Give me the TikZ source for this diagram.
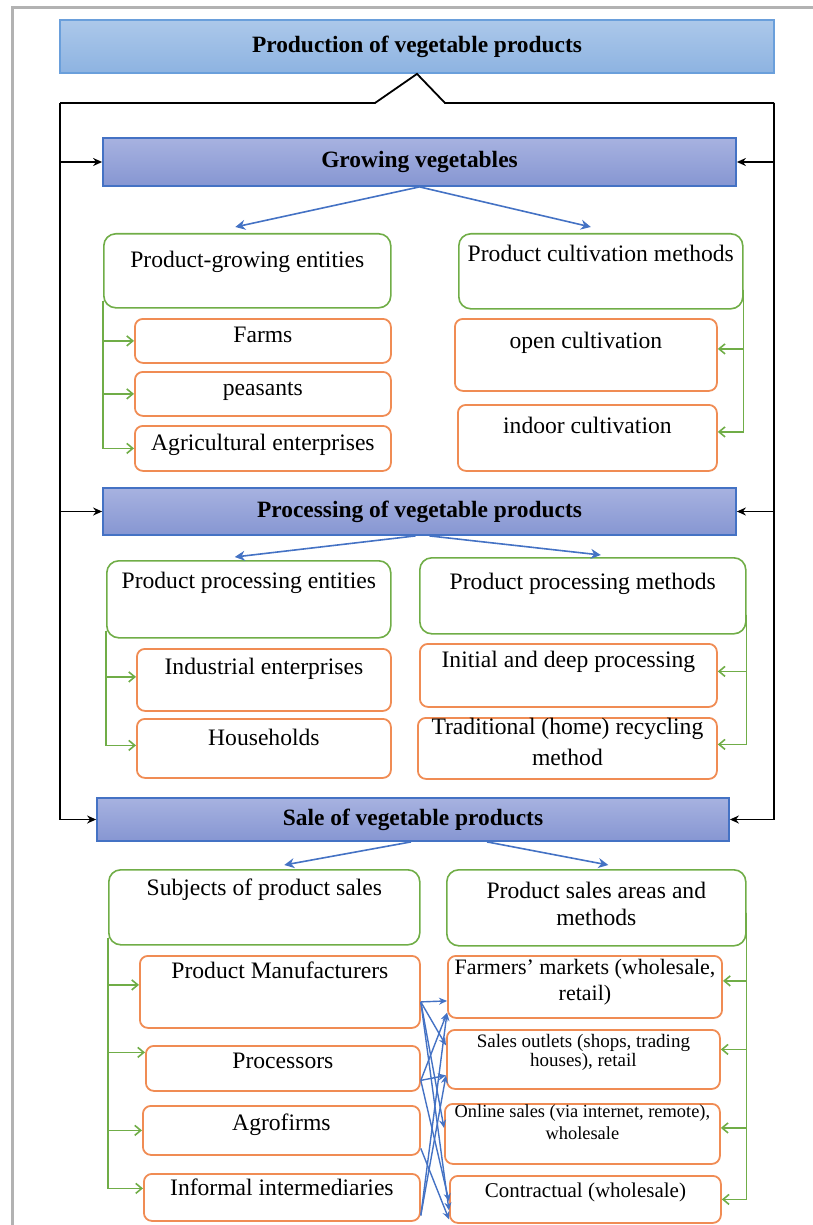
\documentclass[tikz,border=0pt]{standalone}
\usepackage{fontspec}
\setmainfont{Liberation Serif}
\usetikzlibrary{arrows.meta}
\definecolor{hdblue}{RGB}{68,114,196}
\definecolor{tpblue}{RGB}{106,159,219}
\definecolor{maintop}{RGB}{172,200,234}
\definecolor{mainbot}{RGB}{141,179,225}
\definecolor{stagetop}{RGB}{167,178,224}
\definecolor{stagebot}{RGB}{134,150,210}
\definecolor{grgreen}{RGB}{112,173,71}
\definecolor{itorange}{RGB}{240,140,84}
\definecolor{frgray}{RGB}{178,178,178}

\tikzset{
  mainbox/.style={draw=tpblue, line width=0.9pt, top color=maintop, bottom color=mainbot,
    inner sep=0pt, font=\fontsize{11.7}{14}\selectfont\bfseries},
  stagebox/.style={draw=hdblue, line width=0.9pt, top color=stagetop, bottom color=stagebot,
    inner sep=0pt, font=\fontsize{11.7}{14}\selectfont\bfseries},
  groupbox/.style={draw=grgreen, line width=0.8pt, rounded corners=6pt, anchor=north west,
    inner ysep=0pt, align=center, font=\fontsize{11.8}{13.5}\selectfont},
  itembox/.style={draw=itorange, line width=0.9pt, rounded corners=4pt, anchor=north west,
    inner ysep=0pt, align=center, font=\fontsize{11.8}{15.5}\selectfont},
  feed/.style={draw=black, line width=0.9pt},
  split/.style={draw=hdblue, line width=0.8pt, -{Stealth[length=5pt,width=5pt]}},
  branch/.style={draw=grgreen, line width=0.8pt, -{Straight Barb[length=3pt,width=5pt]}},
  link/.style={draw=hdblue, line width=0.7pt, -{Stealth[length=4pt,width=3.5pt]}}
}

\begin{document}
\begin{tikzpicture}[x=0.5pt, y=-0.5pt]
\useasboundingbox (0,0) rectangle (813,1225);
\draw[frgray, line width=1.5pt] (12,1225) -- (12,8) -- (813,8);

% stages
\node[mainbox, minimum width=357pt, minimum height=26.5pt] (main) at (417,46.5) {Production of vegetable products};
\node[stagebox, minimum width=316.5pt, minimum height=24pt] (grow) at (419.5,162) {Growing vegetables};
\node[stagebox, minimum width=316.5pt, minimum height=23.5pt] (proc) at (419.5,511.5) {Processing of vegetable products};
\node[stagebox, minimum width=316pt, minimum height=21.5pt] (sale) at (413,819.5) {Sale of vegetable products};

% growing
\node[groupbox, minimum width=143.5pt, text height=17pt, text depth=20pt] (gEnt) at (103,233) {Product-growing entities};
\node[groupbox, minimum width=142pt, text height=14pt, text depth=23.5pt] (gMeth) at (458,233) {Product cultivation methods};
\node[itembox, minimum width=128pt, text height=12pt, text depth=10pt] (farms) at (134,318) {Farms};
\node[itembox, minimum width=128pt, text height=12pt, text depth=10pt] (peas) at (134,371) {peasants};
\node[itembox, minimum width=128pt, text height=12.5pt, text depth=10pt] (agri) at (134,425) {Agricultural enterprises};
\node[itembox, minimum width=131pt, text height=15pt, text depth=21pt] (open) at (454,318) {open cultivation};
\node[itembox, minimum width=129.5pt, text height=14.5pt, text depth=18.5pt] (indoor) at (457,404) {indoor cultivation};

% processing
\node[groupbox, minimum width=142pt, text height=14pt, text depth=24.5pt] (pEnt) at (106,560) {Product processing entities};
\node[groupbox, minimum width=163pt, text height=16pt, text depth=22pt] (pMeth) at (419,557) {Product processing methods};
\node[itembox, minimum width=127pt, text height=13pt, text depth=18pt] (indus) at (136,648) {Industrial enterprises};
\node[itembox, minimum width=127pt, text height=13.5pt, text depth=16pt] (house) at (136,718) {Households};
\node[itembox, minimum width=148.5pt, text height=12pt, text depth=19.5pt] (initial) at (419,643) {Initial and deep processing};
\node[itembox, minimum width=149.5pt, text height=24pt, text depth=6.5pt] (trad) at (417,717) {Traditional (home) recycling\\method};

% sale
\node[groupbox, minimum width=155.5pt, text height=13pt, text depth=24.5pt] (sSubj) at (108,869) {Subjects of product sales};
\node[groupbox, minimum width=149.5pt, text height=28pt, text depth=10pt] (sArea) at (446,869) {Product sales areas and\\methods};
\node[itembox, minimum width=140pt, text height=11.5pt, text depth=24.5pt] (manuf) at (139,955) {Product Manufacturers};
\node[itembox, minimum width=137pt, text height=11.5pt, text depth=11pt] (procs) at (145,1045) {Processors};
\node[itembox, minimum width=138.5pt, text height=12.5pt, text depth=12pt] (agro) at (142,1105) {Agrofirms};
\node[itembox, minimum width=138pt, text height=11pt, text depth=12.5pt] (inform) at (143,1173) {Informal intermediaries};
\node[itembox, minimum width=136.5pt, text height=22.5pt, text depth=8.5pt, font=\fontsize{11}{13}\selectfont] (farmer) at (447,955) {Farmers' markets (wholesale,\\retail)};
\node[itembox, minimum width=136.5pt, text height=18.5pt, text depth=11pt, font=\fontsize{9.5}{9.5}\selectfont] (outlet) at (446,1029) {Sales outlets (shops, trading\\houses), retail};
\node[itembox, minimum width=137.5pt, text height=18pt, text depth=12pt, font=\fontsize{9.2}{11}\selectfont] (online) at (444,1103) {Online sales (via internet, remote),\\wholesale};
\node[itembox, minimum width=135.5pt, text height=11pt, text depth=12.5pt, font=\fontsize{10.5}{12}\selectfont] (contr) at (449,1175) {Contractual (wholesale)};

% frame of stages
\coordinate (tl) at (60,103);
\coordinate (tr) at (774,103);
\draw[feed] (tl) -- (375,103) -- (main.south) -- (445,103) -- (tr);
\draw[feed, -{Stealth[length=4.5pt,width=4pt]}] (tl) |- (sale.west);
\draw[feed, -{Stealth[length=4.5pt,width=4pt]}] (tr) |- (sale.east);
\foreach \s in {grow,proc}{
  \draw[feed, -{Stealth[length=4.5pt,width=4pt]}] (tl |- \s.west) -- (\s.west);
  \draw[feed, -{Stealth[length=4.5pt,width=4pt]}] (tr |- \s.east) -- (\s.east);
}

% splits
\draw[split] (grow.south) -- ([xshift=-6pt,yshift=3pt]gEnt.north);
\draw[split] (grow.south) -- ([xshift=-5pt,yshift=3pt]gMeth.north);
\draw[split] ([xshift=-2pt]proc.south) -- ([xshift=-7pt,yshift=1.5pt]pEnt.north);
\draw[split] ([xshift=5pt]proc.south) -- ([xshift=9pt,yshift=1pt]pMeth.north);
\draw[split] ([xshift=-1pt]sale.south) -- ([xshift=10pt,yshift=2pt]sSubj.north);
\draw[split] ([xshift=37pt]sale.south) -- ([xshift=6pt,yshift=2pt]sArea.north);

% branches
\foreach \t in {farms,peas,agri}
  \draw[branch] ([yshift=4pt]gEnt.south west) |- (\t.west);
\foreach \t in {open,indoor}
  \draw[branch] ([yshift=10pt]gMeth.south east) |- ([yshift=3pt]\t.east);
\foreach \t in {indus,house}
  \draw[branch] ([yshift=4pt]pEnt.south west) |- ([yshift=1.5pt]\t.west);
\foreach \t in {initial,trad}
  \draw[branch] ([yshift=10pt]pMeth.south east) |- ([yshift=2pt]\t.east);
\draw[branch] ([yshift=4pt]sSubj.south west) |- ([yshift=3.5pt]manuf.west);
\draw[branch] ([yshift=4pt]sSubj.south west) |- ([yshift=8pt]procs.west);
\draw[branch] ([yshift=4pt]sSubj.south west) |- (agro.west);
\draw[branch] ([yshift=4pt]sSubj.south west) |- ([yshift=4.5pt]inform.west);
\draw[branch] ([yshift=17pt]sArea.south east) |- ([yshift=3pt]farmer.east);
\draw[branch] ([yshift=17pt]sArea.south east) |- ([yshift=5pt]outlet.east);
\draw[branch] ([yshift=17pt]sArea.south east) |- ([yshift=3pt]online.east);
\draw[branch] ([yshift=17pt]sArea.south east) |- (contr.east);

% links between subjects and sales methods
\coordinate (mOut) at ([yshift=-5pt]manuf.east);
\coordinate (pOut) at ([yshift=-6pt]procs.east);
\coordinate (aOut) at ([yshift=-9pt]agro.east);
\coordinate (iOut) at ([yshift=-9pt]inform.east);
\draw[link] (mOut) -- ([yshift=-7pt]farmer.west);
\draw[link] (mOut) -- ([yshift=7pt]outlet.west);
\draw[link] (mOut) -- ([yshift=3pt]online.west);
\draw[link] (mOut) -- ([yshift=-5.5pt]contr.west);
\draw[link] (pOut) -- ([yshift=-13pt]farmer.west);
\draw[link] (pOut) -- ([yshift=-8pt]outlet.west);
\draw[link] (pOut) -- ([yshift=-1pt]contr.west);
\draw[link] (aOut) -- ([yshift=-10pt]contr.west);
\draw[link] (iOut) -- ([yshift=-8pt]outlet.west);
\draw[link] (iOut) -- ([yshift=-13pt]farmer.west);
\end{tikzpicture}
\end{document}
